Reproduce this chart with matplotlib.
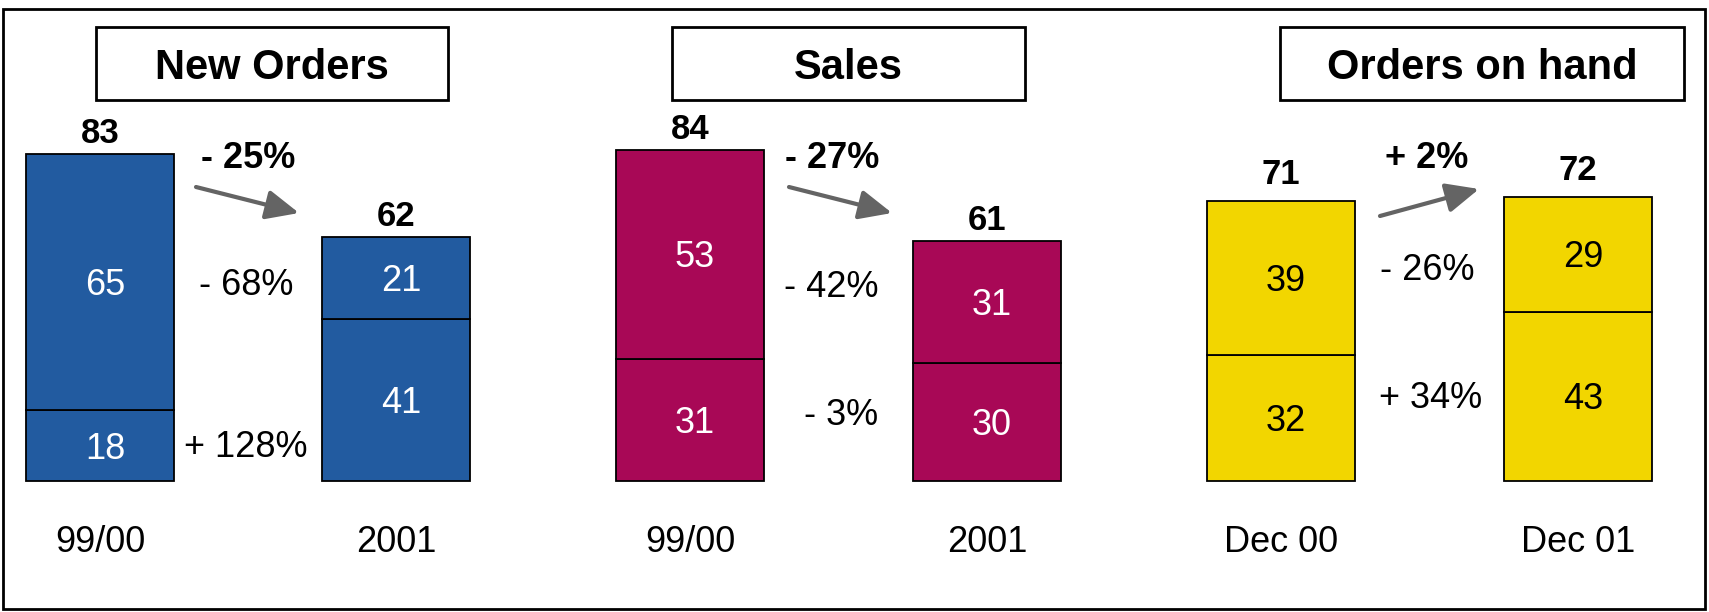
import matplotlib
matplotlib.use("Agg")
import matplotlib.pyplot as plt
from matplotlib.patches import Rectangle

plt.rcParams['font.family'] = ['Liberation Sans', 'DejaVu Sans']

# chart data
titles = ["New Orders", "Sales", "Orders on hand"]
categories = [["99/00", "2001"], ["99/00", "2001"], ["Dec 00", "Dec 01"]]
lower_vals = [[18, 41], [31, 30], [32, 43]]
upper_vals = [[65, 21], [53, 31], [39, 29]]
total_change = ["- 25%", "- 27%", "+ 2%"]
upper_change = ["- 68%", "- 42%", "- 26%"]
lower_change = ["+ 128%", "- 3%", "+ 34%"]

colors = ["#225BA0", "#A80856", "#F2D600"]
value_colors = ["white", "white", "black"]

# layout, in pixels of the 1709x612 canvas
W, H = 1709, 612
BASE = 481          # pixel row of the zero line
PX = 3.94           # pixels per unit
bar_x = [[100, 396], [690, 987], [1281, 1578]]
bar_w = 148
title_boxes = [(96, 448), (672, 1025), (1280, 1684)]
total_gap = [11, 11, 17]
total_chg_pos = [(248, 168), (832, 168), (1427, 168)]
upper_chg_pos = [(246, 295), (831, 297), (1427, 280)]
lower_chg_pos = [(246, 457), (841, 425), (1431, 408)]
arrows = [((196, 187), (299, 213)), ((789, 187), (892, 213)), ((1380, 216), (1479, 189))]


def py(y):
    # pixel row -> data value
    return (BASE - y) / PX


fig = plt.figure(figsize=(W / 100, H / 100), dpi=100)
ax = fig.add_axes([0, 0, 1, 1])
ax.set_xlim(0, W)
ax.set_ylim(py(H), py(0))
ax.axis('off')

# outer frame
ax.add_patch(Rectangle((3, py(609)), 1702, py(9) - py(609), fill=False,
                       edgecolor='black', lw=2, clip_on=False))

for i in range(3):
    x = bar_x[i]
    lo = lower_vals[i]
    up = upper_vals[i]
    ax.bar(x, lo, width=bar_w, color=colors[i], edgecolor='black', linewidth=1.3)
    ax.bar(x, up, bottom=lo, width=bar_w, color=colors[i], edgecolor='black', linewidth=1.3)

    for j in range(2):
        ax.text(x[j] + 5, lo[j] / 2 - 13 / PX, str(lo[j]), ha='center', va='baseline',
                fontsize=26, color=value_colors[i])
        ax.text(x[j] + 5, lo[j] + up[j] / 2 - 13 / PX, str(up[j]), ha='center', va='baseline',
                fontsize=26, color=value_colors[i])
        tot = lo[j] + up[j]
        ax.text(x[j], tot + total_gap[i] / PX, str(tot), ha='center', va='baseline',
                fontsize=25, fontweight='bold')
        ax.text(x[j], py(552), categories[i][j], ha='center', va='baseline', fontsize=26)

    # title box
    x0, x1 = title_boxes[i]
    ax.add_patch(Rectangle((x0, py(100)), x1 - x0, py(27) - py(100), fill=False,
                           edgecolor='black', lw=2))
    ax.text((x0 + x1) / 2, py(79), titles[i], ha='center', va='baseline',
            fontsize=30, fontweight='bold')

    # change labels
    cx, cy = total_chg_pos[i]
    ax.text(cx, py(cy), total_change[i], ha='center', va='baseline', fontsize=26, fontweight='bold')
    cx, cy = upper_chg_pos[i]
    ax.text(cx, py(cy), upper_change[i], ha='center', va='baseline', fontsize=26)
    cx, cy = lower_chg_pos[i]
    ax.text(cx, py(cy), lower_change[i], ha='center', va='baseline', fontsize=26)

    (sx, sy), (ex, ey) = arrows[i]
    ax.annotate('', xy=(ex, py(ey)), xytext=(sx, py(sy)),
                arrowprops=dict(arrowstyle='-|>,head_length=1.0,head_width=0.45',
                                color='#646464', lw=3, mutation_scale=20,
                                shrinkA=0, shrinkB=0))

fig.savefig("out.png", dpi=100)
